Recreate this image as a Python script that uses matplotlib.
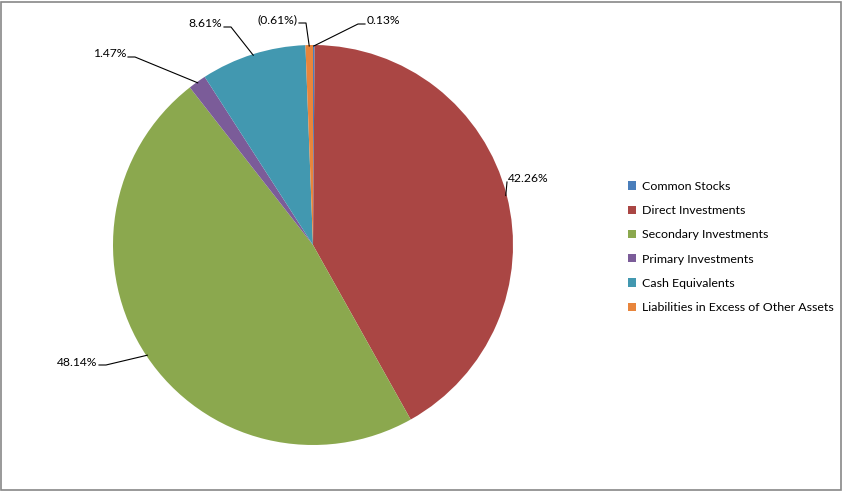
import numpy as np
import matplotlib
matplotlib.use("Agg")
import matplotlib.pyplot as plt
from matplotlib.patches import Rectangle, Patch

categories = ["Common Stocks", "Direct Investments", "Secondary Investments",
              "Primary Investments", "Cash Equivalents",
              "Liabilities in Excess of Other Assets"]
values = [0.13, 42.26, 48.14, 1.47, 8.61, -0.61]
labels = ["0.13%", "42.26%", "48.14%", "1.47%", "8.61%", "(0.61%)"]
colors = ["#4A7EBB", "#AA4644", "#8BA84E", "#7B5C99", "#4298B0", "#E8853C"]

plt.rcParams['font.family'] = ['Lato', 'DejaVu Sans']

W, H = 843, 491
fig = plt.figure(figsize=(W / 100, H / 100), dpi=100)
fig.patch.set_facecolor("white")

cx, cy, R = 313, 245, 200
ax = fig.add_axes([(cx - R) / W, (H - cy - R) / H, 2 * R / W, 2 * R / H])
wedges, _ = ax.pie(np.abs(values), colors=colors, startangle=90,
                   counterclock=False, radius=1.0,
                   wedgeprops=dict(linewidth=0))
ax.set_xlim(-1, 1)
ax.set_ylim(-1, 1)
ax.set_aspect("equal")
ax.axis("off")

def px2data(px, py):
    return ((px - cx) / R, (cy - py) / R)

LFS = 8.7
# label layout (pixel positions of text anchor, side of text)
layout = [
    (367, 21, "left"),
    (508, 179, "left"),
    (97, 362, "right"),
    (126, 54, "right"),
    (222, 24, "right"),
    (297, 20, "right"),
]
for w, lab, (tx, ty, side) in zip(wedges, labels, layout):
    ang = np.deg2rad((w.theta1 + w.theta2) / 2)
    ex, ey = np.cos(ang) * 0.995, np.sin(ang) * 0.995
    txd, tyd = px2data(tx, ty)
    if lab == "42.26%":
        ax.text(txd, tyd, lab, ha="left", va="center", fontsize=LFS)
        ax.plot([px2data(507, 182)[0], ex], [px2data(507, 182)[1], ey],
                color="black", lw=0.8, clip_on=False)
        continue
    ax.text(txd, tyd, lab, ha=side, va="center", fontsize=LFS)
    ly = px2data(0, ty + 3)[1]
    if side == "left":
        x0 = px2data(tx - 2, 0)[0]
        x1 = px2data(tx - 9, 0)[0]
    else:
        x0 = px2data(tx + 2, 0)[0]
        x1 = px2data(tx + 9, 0)[0]
    ax.plot([x0, x1, ex], [ly, ly, ey], color="black", lw=0.8, clip_on=False)

handles = [Patch(facecolor=c, edgecolor="none") for c in colors]
fig.legend(handles, categories, loc="upper left",
           bbox_to_anchor=(623 / W, 1 - 176 / H), frameon=False,
           fontsize=8.9, handlelength=0.65, handleheight=0.65,
           handletextpad=0.45, labelspacing=1.07, borderaxespad=0)

fig.add_artist(Rectangle((0.5 / W, 1.5 / H), (W - 3) / W, (H - 3) / H,
                         transform=fig.transFigure, fill=False,
                         edgecolor="#888888", lw=1.2))

fig.savefig("out.png", dpi=100, facecolor="white")
